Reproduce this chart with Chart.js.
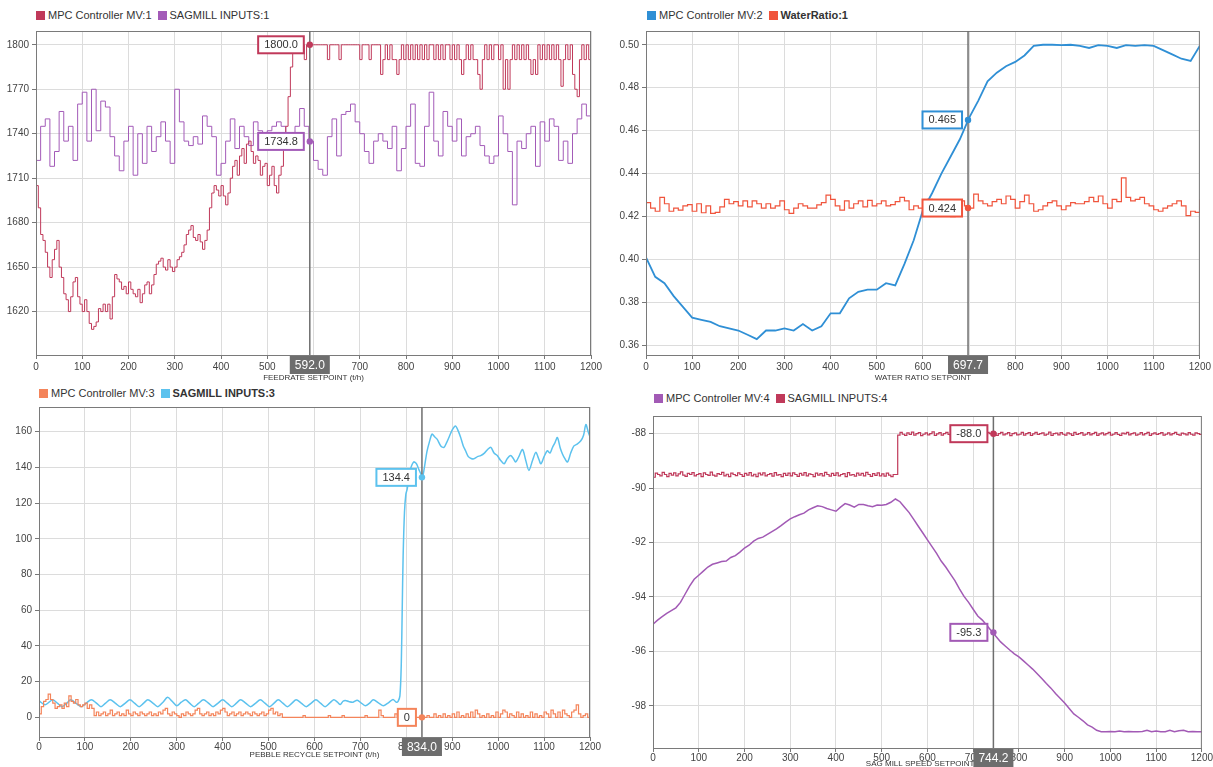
<!DOCTYPE html>
<html>
<head>
<meta charset="utf-8">
<script src="https://cdn.jsdelivr.net/npm/chart.js@4.4.1/dist/chart.umd.min.js"></script>
<style>
  body { margin: 0; background: #fff; width: 1213px; height: 767px; position: relative; overflow: hidden;
         font-family: "Liberation Sans", Arial, sans-serif; }
  canvas { position: absolute; }
  .legend { position: absolute; display: flex; align-items: center; font-size: 11px; color: #333; white-space: nowrap; }
  .legend .item { display: flex; align-items: center; margin-right: 6px; }
  .legend .sw { display: inline-block; width: 9px; height: 9px; margin-right: 3px; }
  .legend b { font-weight: bold; }
</style>
</head>
<body>
<div class="legend" id="legend1" style="left:36px;top:9px"></div>
<div class="legend" id="legend2" style="left:647px;top:9px"></div>
<div class="legend" id="legend3" style="left:39px;top:387px"></div>
<div class="legend" id="legend4" style="left:654px;top:392px"></div>
<canvas id="feedChart"></canvas>
<canvas id="waterChart"></canvas>
<canvas id="pebbleChart"></canvas>
<canvas id="sagChart"></canvas>
<script>
// ---- data (x axis 0..1200) ----
const xTicks = [0, 100, 200, 300, 400, 500, 600, 700, 800, 900, 1000, 1100, 1200];

// Feedrate: MPC Controller MV:1, one value every 5
const feedMvStep = 5;
const feedMv = [
  1705,1690,1672,1668,1660,1650,1643,1655,1662,1668,
  1650,1643,1632,1628,1620,1630,1640,1643,1630,1625,
  1620,1628,1620,1612,1608,1610,1613,1622,1620,1625,
  1620,1625,1615,1630,1645,1642,1640,1635,1637,1632,
  1640,1635,1632,1630,1635,1626,1632,1638,1640,1632,
  1638,1645,1652,1654,1656,1650,1648,1655,1650,1647,
  1650,1655,1657,1660,1665,1672,1675,1678,1670,1668,
  1672,1667,1662,1668,1675,1690,1700,1705,1702,1698,
  1705,1698,1692,1700,1710,1718,1722,1712,1725,1730,
  1720,1733,1735,1728,1720,1725,1722,1712,1718,1720,
  1705,1712,1718,1705,1700,1712,1718,1730,1745,1765,
  1785,1800,1800,1800,1800,1800,1790,1800,1800,1800,
  1800,1800,1800,1800,1800,1800,1790,1800,1800,1800,
  1800,1790,1800,1800,1800,1800,1800,1800,1800,1800,
  1790,1800,1800,1800,1790,1800,1800,1800,1800,1780,
  1790,1800,1790,1800,1790,1790,1780,1790,1800,1790,
  1800,1790,1800,1790,1800,1790,1800,1790,1800,1790,
  1800,1800,1790,1800,1790,1800,1790,1800,1800,1790,
  1800,1790,1800,1790,1780,1790,1800,1790,1800,1790,
  1790,1780,1770,1790,1800,1790,1800,1790,1800,1800,
  1790,1800,1770,1790,1770,1790,1800,1790,1800,1790,
  1800,1790,1800,1790,1780,1790,1780,1800,1790,1800,
  1790,1800,1790,1800,1790,1800,1790,1772,1790,1800,
  1790,1800,1780,1770,1765,1790,1800,1790,1800,1790,
  1800
];
// Feedrate: SAGMILL INPUTS:1, one value every 10
const feedInputStep = 10;
const feedInput = [
  1722,1745,1750,1718,1728,1755,1735,1745,1722,1760,
  1768,1735,1770,1742,1762,1758,1738,1725,1715,1735,
  1745,1712,1740,1720,1745,1728,1738,1748,1735,1720,
  1770,1748,1735,1732,1738,1733,1752,1745,1738,1712,
  1720,1735,1750,1730,1745,1738,1732,1748,1742,1738,
  1742,1745,1748,1745,1740,1730,1745,1757,1745,1735,
  1722,1716,1712,1738,1750,1725,1753,1755,1760,1748,
  1740,1728,1720,1735,1740,1735,1730,1745,1715,1730,
  1745,1760,1720,1718,1745,1768,1735,1725,1755,1745,
  1735,1750,1725,1738,1740,1745,1732,1725,1720,1725,
  1752,1740,1728,1692,1735,1730,1740,1745,1718,1748,
  1735,1750,1745,1722,1735,1720,1740,1750,1760,1752,
  1735
];
const feedCursorX = 592.0;
const feedCursorY = [1800.0, 1734.8];
const feedCursorText = ['1800.0', '1734.8'];

// Water ratio: MPC Controller MV:2, every 20
const waterMvStep = 20;
const waterMv = [
  0.401,0.392,0.389,0.383,0.378,0.373,0.372,0.371,0.369,0.368,
  0.367,0.365,0.363,0.367,0.367,0.368,0.367,0.370,0.367,0.369,
  0.375,0.375,0.382,0.385,0.386,0.386,0.389,0.388,0.398,0.409,
  0.423,0.431,0.440,0.448,0.456,0.466,0.474,0.483,0.487,0.490,
  0.492,0.495,0.4995,0.500,0.500,0.4998,0.500,0.4995,0.4985,0.4998,
  0.4995,0.4985,0.4998,0.4995,0.4998,0.4995,0.4975,0.4955,0.4935,0.4925,
  0.4995
];
// Water ratio: WaterRatio:1, every 10
const waterRatioStep = 10;
const waterRatio = [
  0.4265,0.424,0.4225,0.429,0.426,0.4225,0.424,0.423,0.425,0.4256,
  0.4225,0.426,0.4218,0.425,0.4215,0.422,0.4245,0.428,0.426,0.427,
  0.425,0.4273,0.4245,0.4273,0.426,0.424,0.426,0.424,0.425,0.4273,
  0.4232,0.4215,0.424,0.426,0.425,0.424,0.424,0.4255,0.4265,0.430,
  0.428,0.425,0.423,0.4273,0.424,0.426,0.4273,0.4245,0.4276,0.425,
  0.426,0.4273,0.425,0.4256,0.427,0.429,0.4273,0.4232,0.425,0.424,
  0.426,0.428,0.425,0.4265,0.427,0.424,0.420,0.425,0.4273,0.425,
  0.424,0.4305,0.4273,0.426,0.425,0.427,0.428,0.426,0.4296,0.428,
  0.424,0.427,0.430,0.426,0.4225,0.4232,0.425,0.4265,0.4273,0.425,
  0.4232,0.425,0.4265,0.426,0.426,0.427,0.429,0.427,0.4296,0.426,
  0.424,0.428,0.427,0.438,0.429,0.4273,0.428,0.429,0.426,0.425,
  0.4232,0.4225,0.424,0.425,0.426,0.4273,0.425,0.4205,0.4225,0.422,
  0.428
];
const waterCursorX = 697.7;
const waterCursorY = [0.465, 0.424];
const waterCursorText = ['0.465', '0.424'];

// Pebble recycle: MPC Controller MV:3, every 5
const pebbleMvStep = 5;
const pebbleMv = [
  2,6,9,10,13,10,8,5,6,7,
  5,8,6,12,9,8,10,7,6,7,
  8,5,7,5,1,3,1,2,3,1,
  2,4,1,2,3,1,2,1,4,2,
  1,3,2,1,3,2,1,2,3,1,
  2,1,3,2,4,5,2,1,3,2,
  1,0,2,1,3,2,1,2,4,5,
  2,1,2,3,1,2,1,3,2,4,
  5,3,1,2,3,1,2,3,1,2,
  3,2,1,3,2,1,2,3,1,2,
  4,5,2,3,1,2,0,0,0,0,
  0,0,0,0,0,1,0,0,0,0,
  0,0,0,0,0,0,1,0,0,0,
  0,0,1,0,0,0,0,0,0,0,
  0,0,1,0,0,0,0,0,4,1,
  0,0,0,0,0,2,0,0,1,0,
  2,0,1,0,0,0,0,0,0,1,
  0,0,2,0,1,0,2,0,1,0,
  2,0,3,0,1,0,2,0,3,0,
  4,2,0,1,0,2,0,1,0,3,
  0,2,4,3,0,2,1,0,3,0,
  2,0,1,0,3,0,2,0,1,0,
  3,2,0,4,2,0,3,0,4,2,
  1,0,3,4,7,2,0,1,2,0,
  1
];
// Pebble recycle: SAGMILL INPUTS:3 (irregular x)
const pebbleInputX = [
  0,13,22,30,40,50,60,69,80,92,
  103,114,125,135,145,155,166,177,188,198,
  208,218,228,237,248,259,270,280,290,300,
  310,319,328,338,348,358,369,379,390,400,
  410,420,430,439,450,461,472,482,492,502,
  512,521,531,541,551,560,571,582,593,603,
  613,623,633,642,650,656,662,667,675,684,
  693,702,711,720,728,740,750,760,771,778,
  782,786,789,791,793,796,799,802,808,816,
  822,827,832,834,836,840,845,850,856,862,
  867,875,882,888,893,900,907,912,918,924,
  929,935,941,947,955,962,970,977,984,991,
  998,1005,1013,1020,1027,1033,1038,1045,1053,1060,
  1067,1075,1082,1088,1093,1100,1107,1113,1118,1124,
  1129,1135,1140,1145,1151,1158,1165,1172,1180,1186,
  1191,1196,1200
];
const pebbleInputY = [
  9.3,7.0,8.5,9.8,8,6,7.8,9.8,8,6,
  8,9.8,8,6,8,9.8,8,6,8,9.8,
  8,6,8,9.8,8,6,8.5,11.2,9,6.5,
  8.5,9.8,8,6,8,9.8,8,6,8,9.8,
  8,6,8,9.8,8,6,8,9.8,8,6,
  8,9.8,8,6,8,9.8,8,6,8,9.8,
  8,6,8,9.8,8.5,7.2,9,9.5,8.8,8.5,
  9.6,8,6.5,8,9.8,8,6.5,8,10,8.5,
  9,12,30,60,90,115,125,128,138,143,
  142,139,136,134.4,135,141,149,154,158.6,157,
  155.8,152,151.2,154,156.9,161,163.2,161,157,152,
  149.3,146,145,144.8,146,146.6,148,150,151.2,148,
  146.6,144,142,145,146.6,145,143,146,150,144,
  138.3,144,148.4,145,142,146,149.3,148,151,154,
  156.7,151,147.5,145,143,148,152,153,154.9,158,
  164,160,157
];
const pebbleCursorX = 834.0;
const pebbleCursorY = [0, 134.4];
const pebbleCursorText = ['0', '134.4'];

// SAG mill speed: MPC Controller MV:4, every 10
const sagMvStep = 10;
const sagMv = [
  -95.0,-94.85,-94.72,-94.6,-94.5,-94.4,-94.2,-93.9,-93.6,-93.35,
  -93.2,-93.05,-92.9,-92.8,-92.75,-92.7,-92.68,-92.55,-92.48,-92.35,
  -92.2,-92.1,-91.95,-91.85,-91.8,-91.7,-91.6,-91.5,-91.38,-91.25,
  -91.13,-91.05,-90.98,-90.92,-90.8,-90.72,-90.65,-90.68,-90.75,-90.8,
  -90.85,-90.7,-90.57,-90.62,-90.7,-90.6,-90.6,-90.65,-90.68,-90.62,
  -90.63,-90.6,-90.52,-90.4,-90.5,-90.7,-90.9,-91.15,-91.4,-91.65,
  -91.9,-92.15,-92.4,-92.68,-92.9,-93.15,-93.4,-93.7,-93.98,-94.2,
  -94.45,-94.7,-94.85,-95.05,-95.25,-95.45,-95.65,-95.8,-95.95,-96.09,
  -96.2,-96.35,-96.5,-96.65,-96.82,-97.0,-97.18,-97.35,-97.55,-97.72,
  -97.9,-98.1,-98.3,-98.42,-98.55,-98.7,-98.78,-98.9,-98.95,-98.95,
  -98.94,-98.95,-98.93,-98.95,-98.94,-98.95,-98.95,-98.94,-98.9,-98.95,
  -98.93,-98.95,-98.95,-98.9,-98.95,-98.92,-98.9,-98.95,-98.94,-98.95,
  -98.95
];
// SAG mill speed: SAGMILL INPUTS:4, every 5
const sagInputStep = 5;
const sagInput = [
  -89.6,-89.45,-89.5,-89.55,-89.42,-89.5,-89.58,-89.46,-89.52,-89.44,
  -89.55,-89.48,-89.4,-89.52,-89.57,-89.46,-89.5,-89.43,-89.55,-89.5,
  -89.47,-89.58,-89.44,-89.5,-89.53,-89.41,-89.52,-89.56,-89.47,-89.5,
  -89.42,-89.55,-89.49,-89.58,-89.45,-89.5,-89.54,-89.44,-89.5,-89.57,
  -89.46,-89.52,-89.43,-89.55,-89.49,-89.58,-89.45,-89.51,-89.44,-89.55,
  -89.5,-89.47,-89.56,-89.43,-89.52,-89.5,-89.58,-89.46,-89.53,-89.45,
  -89.55,-89.44,-89.5,-89.57,-89.46,-89.52,-89.43,-89.55,-89.48,-89.5,
  -89.58,-89.45,-89.52,-89.47,-89.55,-89.42,-89.5,-89.56,-89.46,-89.53,
  -89.44,-89.55,-89.5,-89.47,-89.58,-89.43,-89.52,-89.5,-89.56,-89.45,
  -89.52,-89.46,-89.55,-89.42,-89.5,-89.57,-89.47,-89.53,-89.44,-89.55,
  -89.48,-89.56,-89.45,-89.52,-89.58,-89.5,-89.5,-88.05,-87.95,-88.02,
  -88.06,-87.97,-88.03,-87.94,-88.05,-88.0,-87.96,-88.07,-88.02,-87.97,
  -88.04,-88.0,-87.93,-88.06,-88.01,-87.96,-88.05,-88.0,-87.95,-88.03,
  -88.07,-87.98,-88.02,-87.95,-88.05,-88.0,-87.97,-88.06,-88.01,-87.94,
  -88.04,-87.99,-88.06,-87.96,-88.02,-88.05,-87.95,-88.0,-88.03,-87.97,
  -88.06,-88.0,-87.95,-88.04,-88.01,-87.96,-88.07,-88.0,-87.97,-88.04,
  -88.02,-87.95,-88.05,-88.0,-87.96,-88.06,-88.01,-87.95,-88.03,-88.0,
  -87.97,-88.05,-88.02,-87.94,-88.06,-88.0,-87.98,-88.04,-87.96,-88.02,
  -88.05,-87.97,-88.01,-88.06,-87.95,-88.03,-88.0,-87.96,-88.05,-88.02,
  -87.96,-88.04,-88.0,-87.95,-88.06,-88.01,-87.97,-88.04,-88.0,-87.95,
  -88.05,-88.02,-87.96,-88.03,-88.06,-87.98,-88.01,-87.95,-88.04,-88.0,
  -87.97,-88.05,-88.02,-87.96,-88.04,-88.0,-87.95,-88.06,-88.01,-87.97,
  -88.03,-88.0,-87.96,-88.05,-88.02,-87.97,-88.04,-88.0,-87.95,-88.03,
  -88.05,-87.98,-88.01,-88.04,-87.96,-88.02,-88.05,-87.97,-88.0,-88.03,
  -88.0
];
const sagCursorX = 744.2;
const sagCursorY = [-95.3, -88.0];
const sagCursorText = ['-95.3', '-88.0'];

// ---- helpers ----
const FONT = '"Liberation Sans", Arial, sans-serif';
Chart.defaults.font.family = FONT;
Chart.defaults.font.size = 10;
Chart.defaults.color = '#444';

function stepPoints(values, step) {
  return values.map((v, i) => ({ x: i * step, y: v }));
}
function pairPoints(xs, ys) {
  return xs.map((x, i) => ({ x: x, y: ys[i] }));
}

function makeLegend(id, items) {
  const el = document.getElementById(id);
  el.innerHTML = items.map(it =>
    `<span class="item"><span class="sw" style="background:${it.color}"></span>${it.bold ? '<b>' + it.label + '</b>' : it.label}</span>`
  ).join('');
}

function cursorPlugin(cx, ys, texts) {
  return {
    id: 'cursor',
    afterDatasetsDraw(chart) {
      const { ctx, chartArea, scales } = chart;
      const px = scales.x.getPixelForValue(cx);
      ctx.save();
      // frame around plot
      ctx.strokeStyle = '#7a7a7a';
      ctx.lineWidth = 1;
      ctx.strokeRect(chartArea.left + 0.5, chartArea.top + 0.5, chartArea.width - 1, chartArea.height);
      // vertical cursor
      ctx.strokeStyle = '#6e6e6e';
      ctx.lineWidth = 1.5;
      ctx.beginPath();
      ctx.moveTo(px, chartArea.top);
      ctx.lineTo(px, chartArea.bottom);
      ctx.stroke();

      ctx.font = '11px ' + FONT;
      ctx.textAlign = 'center';
      ctx.textBaseline = 'middle';
      ys.forEach((v, i) => {
        const color = chart.data.datasets[i].borderColor;
        const py = scales.y.getPixelForValue(v);
        const w = ctx.measureText(texts[i]).width + 12;
        const h = 17;
        const bx = px - 6 - w;
        ctx.fillStyle = '#fff';
        ctx.fillRect(bx, py - h / 2, w, h);
        ctx.strokeStyle = color;
        ctx.lineWidth = 2;
        ctx.strokeRect(bx, py - h / 2, w, h);
        ctx.fillStyle = '#333';
        ctx.fillText(texts[i], bx + w / 2, py + 0.5);
        ctx.fillStyle = color;
        ctx.beginPath();
        ctx.arc(px, py, 3.2, 0, Math.PI * 2);
        ctx.fill();
      });

      // x value box on the axis
      const xt = cx.toFixed(1);
      ctx.font = '12px ' + FONT;
      const xw = ctx.measureText(xt).width + 10;
      ctx.fillStyle = '#6d6d6d';
      ctx.fillRect(px - xw / 2, chartArea.bottom + 1, xw, 18);
      ctx.fillStyle = '#fff';
      ctx.fillText(xt, px, chartArea.bottom + 10.5);
      ctx.restore();
    }
  };
}

function buildChart(id, box, datasets, yCfg, xTitle, cursor) {
  const canvas = document.getElementById(id);
  canvas.width = box.w;
  canvas.height = box.h;
  canvas.style.left = box.left + 'px';
  canvas.style.top = box.top + 'px';
  return new Chart(canvas.getContext('2d'), {
    type: 'line',
    data: { datasets: datasets },
    options: {
      responsive: false,
      animation: false,
      devicePixelRatio: 1,
      layout: { padding: { top: box.padTop, right: box.padRight, left: 0, bottom: 0 } },
      plugins: { legend: { display: false }, tooltip: { enabled: false } },
      elements: { point: { radius: 0 }, line: { borderWidth: 1.5 } },
      scales: {
        x: {
          type: 'linear', min: 0, max: 1200,
          afterBuildTicks: s => { s.ticks = xTicks.map(v => ({ value: v })); },
          ticks: { maxRotation: 0, autoSkip: false, padding: box.xPad, callback: v => String(v) },
          grid: { color: '#dcdcdc', tickLength: 4, tickColor: '#777' },
          border: { color: '#777' },
          title: { display: true, text: xTitle, color: '#333', font: { size: 8 }, padding: 0 },
          afterFit: s => { s.height = box.xAxisH; }
        },
        y: {
          min: yCfg.min, max: yCfg.max,
          afterBuildTicks: s => { s.ticks = yCfg.ticks.map(v => ({ value: v })); },
          ticks: { padding: 3, callback: yCfg.format },
          grid: { color: '#dcdcdc', tickLength: 4, tickColor: '#777' },
          border: { color: '#777' },
          afterFit: s => { s.width = box.yAxisW; }
        }
      }
    },
    plugins: [cursorPlugin(cursor.x, cursor.y, cursor.text)]
  });
}

// ---- panel 1: feedrate ----
const feedColors = ['#c0395a', '#a35bb8'];
makeLegend('legend1', [
  { label: 'MPC Controller MV:1', color: feedColors[0] },
  { label: 'SAGMILL INPUTS:1', color: feedColors[1] }
]);
buildChart('feedChart',
  { left: 0, top: 22, w: 606, h: 361, padTop: 5, padRight: 15, yAxisW: 36, xAxisH: 28, xPad: 2 },
  [
    { label: 'MPC Controller MV:1', data: stepPoints(feedMv, feedMvStep), borderColor: feedColors[0], borderWidth: 1, stepped: true },
    { label: 'SAGMILL INPUTS:1', data: stepPoints(feedInput, feedInputStep), borderColor: feedColors[1], borderWidth: 1, stepped: true }
  ],
  { min: 1590.7, max: 1809.3, ticks: [1620, 1650, 1680, 1710, 1740, 1770, 1800], format: v => String(v) },
  'FEEDRATE SETPOINT (t/h)',
  { x: feedCursorX, y: feedCursorY, text: feedCursorText }
);

// ---- panel 2: water ratio ----
const waterColors = ['#2f8fd5', '#f0543c'];
makeLegend('legend2', [
  { label: 'MPC Controller MV:2', color: waterColors[0] },
  { label: 'WaterRatio:1', color: waterColors[1], bold: true }
]);
buildChart('waterChart',
  { left: 606, top: 22, w: 607, h: 361, padTop: 5, padRight: 12, yAxisW: 40, xAxisH: 28, xPad: 2 },
  [
    { label: 'MPC Controller MV:2', data: stepPoints(waterMv, waterMvStep), borderColor: waterColors[0], borderWidth: 1.8 },
    { label: 'WaterRatio:1', data: stepPoints(waterRatio, waterRatioStep), borderColor: waterColors[1], borderWidth: 1.2, stepped: true }
  ],
  { min: 0.3556, max: 0.5064, ticks: [0.36, 0.38, 0.40, 0.42, 0.44, 0.46, 0.48, 0.50], format: v => v.toFixed(2) },
  'WATER RATIO SETPOINT',
  { x: waterCursorX, y: waterCursorY, text: waterCursorText }
);

// ---- panel 3: pebble recycle ----
const pebbleColors = ['#f4845a', '#5cc2ee'];
makeLegend('legend3', [
  { label: 'MPC Controller MV:3', color: pebbleColors[0] },
  { label: 'SAGMILL INPUTS:3', color: pebbleColors[1], bold: true }
]);
buildChart('pebbleChart',
  { left: 0, top: 398, w: 604, h: 362, padTop: 5, padRight: 14, yAxisW: 39, xAxisH: 23, xPad: 0 },
  [
    { label: 'MPC Controller MV:3', data: stepPoints(pebbleMv, pebbleMvStep), borderColor: pebbleColors[0], borderWidth: 1.2, stepped: true },
    { label: 'SAGMILL INPUTS:3', data: pairPoints(pebbleInputX, pebbleInputY), borderColor: pebbleColors[1], tension: 0.3 }
  ],
  { min: -11, max: 173.8, ticks: [0, 20, 40, 60, 80, 100, 120, 140, 160], format: v => String(v) },
  'PEBBLE RECYCLE SETPOINT (t/h)',
  { x: pebbleCursorX, y: pebbleCursorY, text: pebbleCursorText }
);

// ---- panel 4: sag mill speed ----
const sagColors = ['#a25ab5', '#c0395a'];
makeLegend('legend4', [
  { label: 'MPC Controller MV:4', color: sagColors[0] },
  { label: 'SAGMILL INPUTS:4', color: sagColors[1] }
]);
buildChart('sagChart',
  { left: 606, top: 404, w: 607, h: 365, padTop: 12, padRight: 8, yAxisW: 47, xAxisH: 21, xPad: 0 },
  [
    { label: 'MPC Controller MV:4', data: stepPoints(sagMv, sagMvStep), borderColor: sagColors[0] },
    { label: 'SAGMILL INPUTS:4', data: stepPoints(sagInput, sagInputStep), borderColor: sagColors[1], borderWidth: 1.2, stepped: true }
  ],
  { min: -99.55, max: -87.35, ticks: [-98, -96, -94, -92, -90, -88], format: v => String(v) },
  'SAG MILL SPEED SETPOINT (%)',
  { x: sagCursorX, y: sagCursorY, text: sagCursorText }
);
</script>
</body>
</html>
